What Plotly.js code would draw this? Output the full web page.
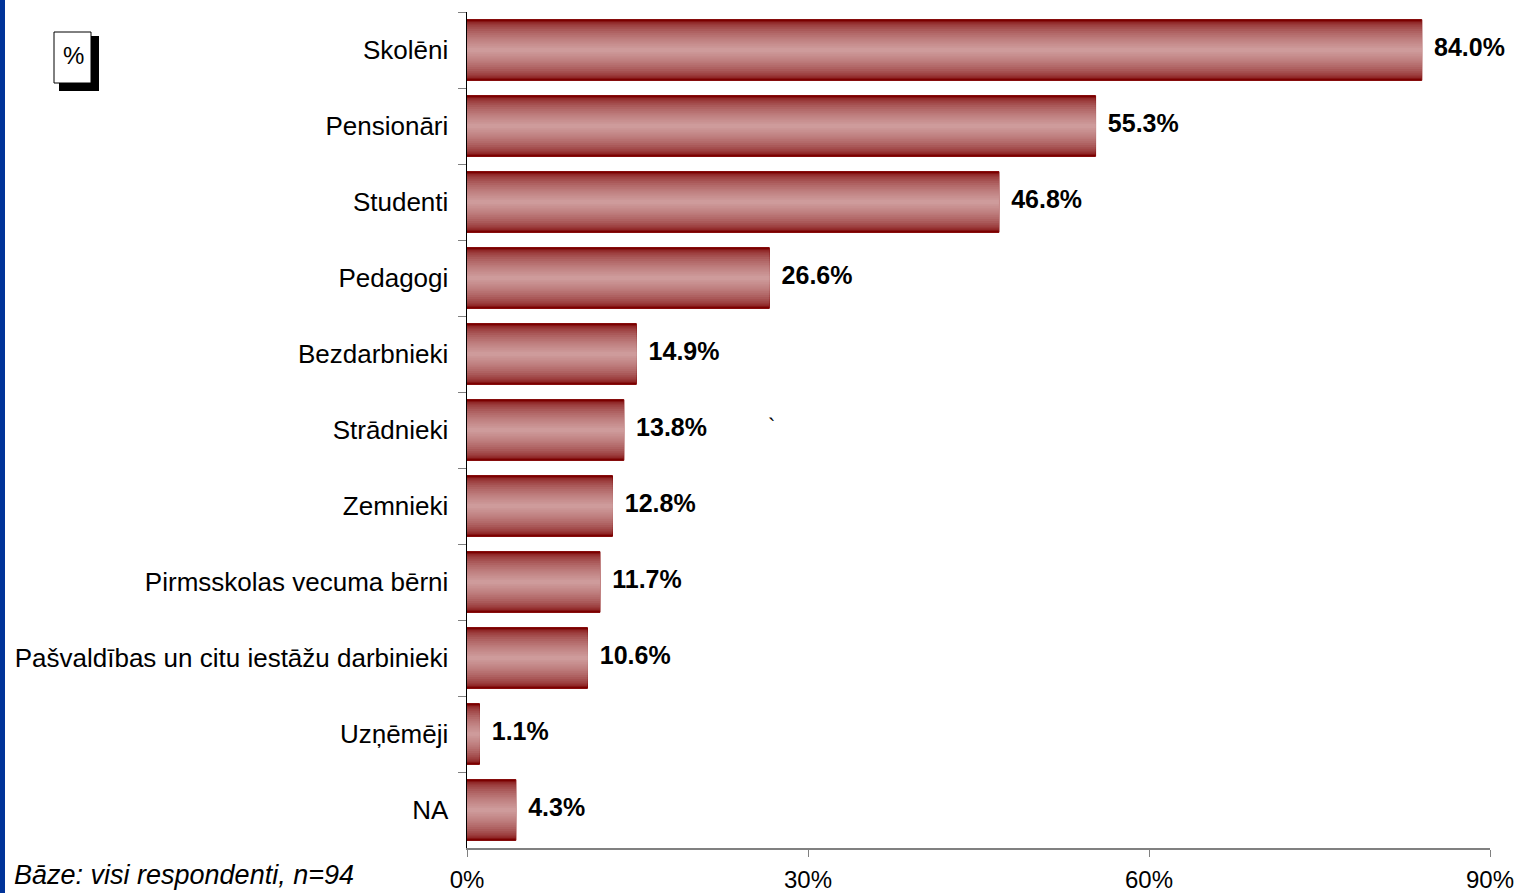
<!DOCTYPE html>
<html>
<head>
<meta charset="utf-8">
<script src="https://cdn.plot.ly/plotly-3.0.1.min.js"></script>
<style>
  html, body { margin: 0; padding: 0; background: #ffffff; }
  #chart { width: 1517px; height: 893px; }
</style>
</head>
<body>
<div id="chart"></div>
<script>
// ---- data ----
const categories = [
  "Skolēni",
  "Pensionāri",
  "Studenti",
  "Pedagogi",
  "Bezdarbnieki",
  "Strādnieki",
  "Zemnieki",
  "Pirmsskolas vecuma bērni",
  "Pašvaldības un citu iestāžu darbinieki",
  "Uzņēmēji",
  "NA"
];
const values = [84.0, 55.3, 46.8, 26.6, 14.9, 13.8, 12.8, 11.7, 10.6, 1.1, 4.3];
const xTickValues = [0, 30, 60, 90];
const xTickLabels = ["0%", "30%", "60%", "90%"];
const footnote = "Bāze: visi respondenti, n=94";
const unitLabel = "%";

// ---- layout geometry ----
const W = 1517, H = 893;
const mL = 467, mR = 27, mT = 12, mB = 45;
const pw = W - mL - mR, ph = H - mT - mB;
const px = x => (x - mL) / pw;
const py = y => (H - mB - y) / ph;

// ---- gradient bars built from overlaid layers ----
const edge = [122, 0, 0];
const center = [206, 155, 155];
const N = 16;
const traces = [];
for (let i = 0; i < N; i++) {
  const t = Math.pow(i / (N - 1), 0.5);
  const c = edge.map((e, k) => Math.round(e + (center[k] - e) * t));
  const w = 0.8 * (1 - i / N);
  traces.push({
    type: "bar",
    orientation: "h",
    x: values,
    y: categories,
    width: w,
    marker: {
      color: `rgb(${c[0]},${c[1]},${c[2]})`,
      line: { color: i === 0 ? "#800000" : "rgba(0,0,0,0)", width: i === 0 ? 1 : 0 }
    },
    hoverinfo: "skip",
    showlegend: false
  });
}
traces.push({
  type: "scatter",
  mode: "markers+text",
  x: values,
  y: categories,
  text: values.map(v => v.toFixed(1) + "%"),
  textposition: "middle right",
  marker: { size: 18, color: "rgba(0,0,0,0)" },
  textfont: { family: "Liberation Sans, Arial, sans-serif", size: 25, color: "#000000", weight: "bold" },
  hoverinfo: "skip",
  showlegend: false,
  cliponaxis: false
});

const layout = {
  width: W, height: H,
  margin: { l: mL, r: mR, t: mT, b: mB, pad: 0 },
  paper_bgcolor: "#ffffff",
  plot_bgcolor: "#ffffff",
  barmode: "overlay",
  showlegend: false,
  font: { family: "Liberation Sans, Arial, sans-serif", size: 26, color: "#000000" },
  xaxis: {
    range: [0, 90],
    tickvals: xTickValues,
    ticktext: xTickLabels,
    showgrid: false,
    zeroline: false,
    showline: true,
    linecolor: "#808080",
    linewidth: 1.5,
    ticks: "outside",
    ticklen: 7,
    tickcolor: "#808080",
    tickfont: { size: 24 },
    ticklabelstandoff: 3,
    fixedrange: true
  },
  yaxis: {
    type: "category",
    range: [10.5, -0.5],
    showgrid: false,
    zeroline: false,
    showline: true,
    linecolor: "#000000",
    linewidth: 1.5,
    ticks: "outside",
    tickson: "boundaries",
    ticklen: 8,
    tickcolor: "#808080",
    tickfont: { size: 26 },
    ticklabelstandoff: 12,
    fixedrange: true
  },
  shapes: [
    { type: "rect", xref: "paper", yref: "paper", x0: px(0), x1: px(5), y0: py(H), y1: py(0),
      fillcolor: "#003399", line: { width: 0 }, layer: "above" },
    { type: "rect", xref: "paper", yref: "paper", x0: px(59), x1: px(99), y0: py(91), y1: py(36),
      fillcolor: "#000000", line: { width: 0 }, layer: "above" },
    { type: "rect", xref: "paper", yref: "paper", x0: px(54), x1: px(91), y0: py(83), y1: py(32),
      fillcolor: "#ffffff", line: { color: "#000000", width: 1 }, layer: "above" }
  ],
  annotations: [
    { xref: "paper", yref: "paper", x: px(73), y: py(55), text: unitLabel, showarrow: false,
      xanchor: "center", yanchor: "middle", font: { size: 24, color: "#000000" } },
    { xref: "paper", yref: "paper", x: px(12), y: py(875), text: footnote, showarrow: false,
      xanchor: "left", yanchor: "middle", font: { size: 27, color: "#000000", style: "italic" } },
    { xref: "paper", yref: "paper", x: px(771), y: py(426), text: "`", showarrow: false,
      xanchor: "center", yanchor: "middle", font: { size: 22, color: "#000000" } }
  ]
};

Plotly.newPlot("chart", traces, layout, { displayModeBar: false, staticPlot: true });
</script>
</body>
</html>
